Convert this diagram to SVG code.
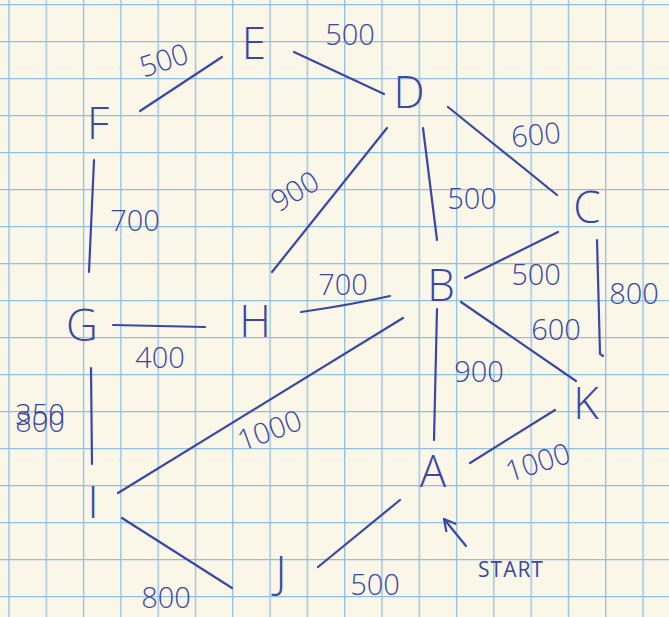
<svg xmlns="http://www.w3.org/2000/svg" width="669" height="617" viewBox="0 0 669 617">
<defs>
<pattern id="grid" patternUnits="userSpaceOnUse" x="8.3" y="4" width="37.3" height="37">
<path d="M0.5 0V37M0 0.5H37.3" fill="none" stroke="#8fbfe3" stroke-width="1.6"/>
</pattern>
<marker id="arr" viewBox="0 0 14 14" refX="12" refY="7" markerWidth="14" markerHeight="14" markerUnits="userSpaceOnUse" orient="auto">
<path d="M1 1L12 7L1 13" fill="none" stroke="#3a47a6" stroke-width="2.2" stroke-linecap="round" stroke-linejoin="round"/>
</marker>
</defs>
<style>
.ink{stroke:#3a47a6;stroke-width:2.2;fill:none;stroke-linecap:round}
.node{font-family:"Open Sans","DejaVu Sans",sans-serif;font-weight:300;font-size:44px;fill:#3a47a6;text-anchor:middle}
.lbl{font-family:"Open Sans","DejaVu Sans",sans-serif;font-weight:300;font-size:29px;fill:#3a47a6;text-anchor:middle}
.small{font-family:"Open Sans","DejaVu Sans",sans-serif;font-size:21px;fill:#3a47a6;text-anchor:middle;letter-spacing:1px}
</style>
<rect width="669" height="617" fill="#fbf7e8"/>
<rect width="669" height="617" fill="url(#grid)"/>
<g id="connectors">
<path class="ink" d="M140 111L222 57"/>
<path class="ink" d="M294 52L384 94"/>
<path class="ink" d="M448 107L557 195"/>
<path class="ink" d="M387 128L272 272"/>
<path class="ink" d="M423 128L437 240"/>
<path class="ink" d="M94 160L89 272"/>
<path class="ink" d="M301 312Q350 305 390 296"/>
<path class="ink" d="M113 325L205 327"/>
<path class="ink" d="M558 232L465 278"/>
<path class="ink" d="M597 240L600 354L603 356"/>
<path class="ink" d="M461 302L576 381"/>
<path class="ink" d="M437 309L434 440"/>
<path class="ink" d="M403 318L118 493"/>
<path class="ink" d="M91 368L92 464"/>
<path class="ink" d="M122 518L232 588"/>
<path class="ink" d="M318 567L400 500"/>
<path class="ink" d="M470 463L555 410"/>
<path class="ink" d="M466 546L444 519" marker-end="url(#arr)"/>
<text class="lbl" transform="translate(167 70) rotate(-18)">500</text>
<text class="lbl" x="350" y="45">500</text>
<text class="lbl" transform="translate(537 145) rotate(-6)">600</text>
<text class="lbl" transform="translate(300 200) rotate(-30)">900</text>
<text class="lbl" x="472" y="209">500</text>
<text class="lbl" x="135" y="231">700</text>
<text class="lbl" x="343" y="295">700</text>
<text class="lbl" x="536" y="285">500</text>
<text class="lbl" x="634" y="304">800</text>
<text class="lbl" x="556" y="340">600</text>
<text class="lbl" x="160" y="368">400</text>
<text class="lbl" x="479" y="382">900</text>
<text class="lbl"><tspan x="40" y="425">350</tspan><tspan x="40" y="432">800</tspan></text>
<text class="lbl" transform="translate(273 440) rotate(-20)">1000</text>
<text class="lbl" transform="translate(541 472) rotate(-18)">1000</text>
<text class="lbl" x="166" y="608">800</text>
<text class="lbl" x="375" y="595">500</text>
</g>
<g id="node-E"><text class="node" x="254" y="59">E</text></g>
<g id="node-D"><text class="node" x="409" y="108">D</text></g>
<g id="node-F"><text class="node" x="98" y="139">F</text></g>
<g id="node-C"><text class="node" x="587" y="223">C</text></g>
<g id="node-B"><text class="node" x="441" y="301">B</text></g>
<g id="node-G"><text class="node" x="82" y="341">G</text></g>
<g id="node-H"><text class="node" x="255" y="337">H</text></g>
<g id="node-K"><text class="node" x="586" y="419">K</text></g>
<g id="node-A"><text class="node" x="433" y="487">A</text></g>
<g id="node-I"><text class="node" x="93" y="518">I</text></g>
<g id="node-J"><text class="node" x="281" y="588">J</text></g>
<g id="start"><text class="small" x="511" y="577">START</text></g>
</svg>
